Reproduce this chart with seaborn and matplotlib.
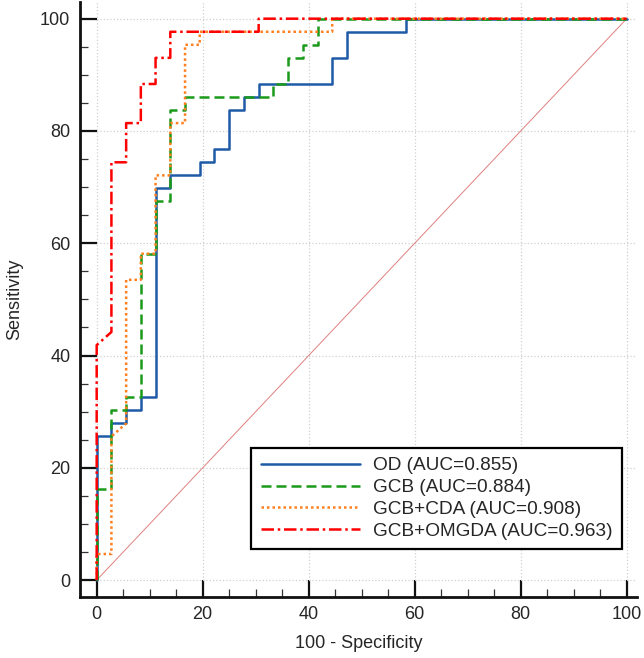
import matplotlib
matplotlib.use('Agg')
import matplotlib.pyplot as plt
import seaborn as sns
import pandas as pd
from matplotlib.ticker import MultipleLocator

# ROC curves, (100 - specificity, sensitivity) in percent
od_fpr = [0, 0, 2.78, 2.78, 5.56, 5.56, 8.33, 8.33, 11.11, 11.11, 13.89, 13.89,
          19.44, 19.44, 22.22, 22.22, 25.0, 25.0, 27.78, 27.78, 30.56, 30.56,
          44.44, 44.44, 47.22, 47.22, 58.33, 58.33, 100]
od_tpr = [0, 25.58, 25.58, 27.91, 27.91, 30.23, 30.23, 32.56, 32.56, 69.77, 69.77, 72.09,
          72.09, 74.42, 74.42, 76.74, 76.74, 83.72, 83.72, 86.05, 86.05, 88.37,
          88.37, 93.02, 93.02, 97.67, 97.67, 100, 100]

gcb_fpr = [0, 0, 2.78, 2.78, 5.56, 5.56, 8.33, 8.33, 11.11, 11.11, 13.89, 13.89,
           16.67, 16.67, 33.33, 33.33, 36.11, 36.11, 38.89, 38.89, 41.67, 41.67, 100]
gcb_tpr = [0, 16.28, 16.28, 30.23, 30.23, 32.56, 32.56, 58.14, 58.14, 67.44, 67.44, 83.72,
           83.72, 86.05, 86.05, 88.37, 88.37, 93.02, 93.02, 95.35, 95.35, 100, 100]

cda_fpr = [0, 0, 2.78, 2.78, 5.56, 5.56, 8.33, 8.33, 11.11, 11.11, 13.89, 13.89,
           16.67, 16.67, 19.44, 19.44, 44.44, 44.44, 100]
cda_tpr = [0, 4.65, 4.65, 25.58, 27.91, 53.49, 53.49, 58.14, 58.14, 72.09, 72.09, 81.40,
           81.40, 95.35, 95.35, 97.67, 97.67, 100, 100]

omg_fpr = [0, 0, 2.78, 2.78, 5.56, 5.56, 8.33, 8.33, 11.11, 11.11, 13.89, 13.89,
           30.56, 30.56, 100]
omg_tpr = [0, 41.86, 44.19, 74.42, 74.42, 81.40, 81.40, 88.37, 88.37, 93.02, 93.02, 97.67,
           97.67, 100, 100]

labels = ['OD (AUC=0.855)', 'GCB (AUC=0.884)', 'GCB+CDA (AUC=0.908)',
          'GCB+OMGDA (AUC=0.963)']
colors = ['#1f5aa6', '#1a9a1a', '#ff7f1e', '#ff0000']
styles = ['-', (0, (4, 2)), (0, (1, 1.2)), (0, (5, 1.5, 1, 1.5))]

sns.set_style('white')
plt.rcParams['font.family'] = ['Liberation Sans', 'DejaVu Sans']

fig = plt.figure(figsize=(6.44, 6.58), dpi=100)
ax = fig.add_axes([0.1242, 0.0932, 0.8654, 0.904])

# reference diagonal
sns.lineplot(x=[0, 100], y=[0, 100], ax=ax, color='#e08080', lw=0.7,
             sort=False, estimator=None, legend=False)

curves = [(od_fpr, od_tpr), (gcb_fpr, gcb_tpr), (cda_fpr, cda_tpr), (omg_fpr, omg_tpr)]
for (fx, ty), lab, c, ls in zip(curves, labels, colors, styles):
    df = pd.DataFrame({'fpr': fx, 'tpr': ty})
    sns.lineplot(data=df, x='fpr', y='tpr', ax=ax, color=c, lw=1.8,
                 linestyle=ls, sort=False, estimator=None, label=lab)

ax.set_xlim(-3.15, 102)
ax.set_ylim(-2.95, 103)
ax.xaxis.set_major_locator(MultipleLocator(20))
ax.yaxis.set_major_locator(MultipleLocator(20))
ax.xaxis.set_minor_locator(MultipleLocator(5))
ax.yaxis.set_minor_locator(MultipleLocator(5))
ax.grid(True, which='major', color='#d0d0d0', linestyle=':', lw=0.9)
ax.set_axisbelow(True)

for s in ['top', 'right']:
    ax.spines[s].set_visible(False)
for s in ['left', 'bottom']:
    ax.spines[s].set_linewidth(2.0)
    ax.spines[s].set_color('#111111')

ax.tick_params(which='major', direction='in', length=12, width=1.6,
               labelsize=13, pad=7, color='#111111')
ax.tick_params(which='minor', direction='in', length=6, width=0.9, color='#333333')
ax.tick_params(axis='both', which='both', left=True, bottom=True)

ax.set_xlabel('100 - Specificity', fontsize=13, labelpad=8)
ax.set_ylabel('Sensitivity', fontsize=13, labelpad=12)

leg = ax.legend(loc='lower right', bbox_to_anchor=(0.9726, 0.080), fontsize=13.7,
                frameon=True, fancybox=False, framealpha=1, edgecolor='black',
                handlelength=5.2, handletextpad=0.7, labelspacing=0.23,
                borderpad=0.5, borderaxespad=0)
leg.get_frame().set_linewidth(1.6)

fig.savefig('out.png', dpi=100)
